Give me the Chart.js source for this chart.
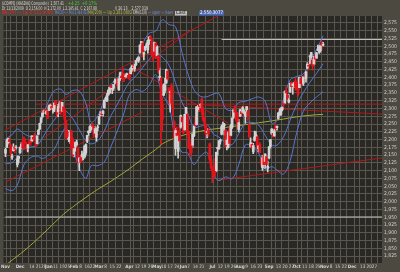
<!DOCTYPE html>
<html>
<head>
<meta charset="utf-8">
<script src="https://cdn.jsdelivr.net/npm/chart.js@4.4.0/dist/chart.umd.min.js"></script>
<style>
  html, body { margin: 0; padding: 0; background: #4c4940; }
</style>
</head>
<body>
<canvas id="chart" width="400" height="272"></canvas>
<script>
// ----- Data: daily candles, NASDAQ Composite, 11/13/2009 - 10/29/2010 (one row per month) -----
const holidays = ["2009-11-26", "2009-12-25", "2010-01-01", "2010-01-18", "2010-02-15", "2010-04-02",
  "2010-05-31", "2010-07-05", "2010-09-06", "2010-11-25", "2010-12-24"];

const open = [
  2156,2175,2190,2200,2180,2143,2164,2177,2173,2119,2139,
  2157,2176,2190,2196,2190,2180,2172,2193,2197,2196,2207,2207,2196,2187,2217,2234,2255,2273,2289,2293,2284,2291,
  2294,2307,2307,2298,2292,2324,2297,2289,2303,2322,2291,2305,2293,2254,2225,2200,2197,2228,2201,
  2153,2176,2183,2173,2127,2142,2147,2148,2144,2157,2195,2222,2223,2231,2250,2239,2221,2208,2238,
  2250,2278,2284,2283,2302,2329,2325,2344,2350,2373,2362,2365,2383,2388,2395,2360,2395,2404,2410,2405,2402,2409,2403,
  2410,2412,2423,2432,2427,2441,2457,2455,2480,2505,2510,2475,2488,2500,2488,2518,2530,2515,2480,2485,2510,
  2470,2470,2400,2397,2314,2343,2358,2382,2420,2366,2350,2372,2306,2258,2171,2220,2162,2229,2240,2272,
  2240,2231,2285,2281,2224,2172,2186,2182,2212,2254,2248,2297,2309,2310,2330,2290,2264,2249,2223,2228,2186,2136,
  2114,2108,2120,2100,2171,2170,2194,2217,2235,2245,2229,2184,2175,2232,2213,2240,2272,2303,2287,2276,2232,
  2275,2290,2287,2292,2275,2296,2290,2248,2176,2185,2160,2197,2208,2209,2171,2185,2137,2110,2148,2130,2145,2108,
  2141,2178,2219,2220,2212,2245,2238,2268,2281,2280,2296,2318,2318,2356,2342,2320,2353,2384,2373,2373,2389,
  2384,2364,2367,2398,2391,2381,2406,2397,2430,2438,2466,2467,2455,2443,2465,2462,2487,2481,2486,2509,2503
];
const high = [
  2172,2201,2204,2206,2183,2153,2186,2179,2181,2148,2146,
  2177,2190,2200,2209,2203,2190,2185,2200,2200,2212,2214,2221,2200,2212,2233,2253,2271,2286,2295,2297,2293,2294,
  2311,2314,2315,2301,2318,2326,2298,2313,2322,2322,2320,2307,2302,2263,2229,2230,2224,2230,2206,
  2172,2193,2198,2176,2143,2150,2163,2157,2181,2186,2214,2228,2244,2250,2252,2243,2241,2236,2247,
  2274,2290,2292,2293,2327,2336,2349,2361,2368,2375,2366,2378,2395,2393,2397,2398,2417,2410,2430,2414,2409,2414,2408,
  2418,2431,2440,2443,2442,2454,2462,2466,2505,2516,2516,2482,2500,2511,2520,2531,2535,2525,2484,2514,2513,
  2502,2470,2430,2403,2335,2379,2397,2427,2425,2367,2361,2380,2320,2260,2236,2240,2214,2249,2279,2274,
  2262,2282,2304,2283,2228,2181,2202,2218,2244,2272,2306,2310,2312,2316,2335,2304,2273,2251,2236,2236,2189,2146,
  2115,2111,2139,2160,2176,2197,2201,2246,2256,2252,2233,2203,2226,2240,2249,2270,2296,2308,2290,2288,2265,
  2298,2293,2306,2296,2290,2306,2297,2248,2206,2192,2188,2227,2226,2213,2181,2190,2139,2149,2153,2154,2148,2131,
  2178,2200,2235,2225,2234,2250,2244,2287,2299,2302,2305,2323,2357,2370,2346,2345,2382,2386,2382,2385,2398,
  2387,2369,2401,2400,2392,2403,2413,2420,2448,2446,2470,2481,2461,2468,2475,2481,2504,2499,2504,2516,2513
];
const low = [
  2145,2175,2186,2183,2146,2136,2163,2157,2169,2112,2125,
  2156,2170,2170,2170,2185,2163,2160,2185,2181,2193,2195,2203,2177,2186,2215,2232,2253,2272,2283,2286,2280,2268,
  2294,2296,2295,2285,2290,2302,2272,2274,2303,2279,2290,2276,2257,2205,2200,2193,2188,2170,2145,
  2144,2163,2182,2125,2100,2126,2133,2135,2140,2151,2190,2213,2223,2230,2236,2207,2220,2195,2229,
  2249,2276,2276,2275,2301,2325,2322,2342,2348,2359,2348,2358,2380,2382,2365,2358,2390,2396,2395,2386,2398,2400,2396,
  2392,2410,2419,2420,2420,2438,2452,2448,2478,2500,2466,2456,2485,2496,2478,2506,2518,2468,2453,2483,2460,
  2467,2414,2390,2185,2229,2341,2350,2381,2390,2317,2288,2311,2273,2203,2150,2212,2140,2195,2237,2243,
  2219,2230,2271,2214,2171,2145,2154,2175,2209,2242,2246,2290,2290,2303,2280,2259,2240,2212,2205,2210,2124,2106,
  2061,2082,2079,2097,2150,2169,2185,2215,2230,2215,2177,2167,2172,2183,2212,2236,2268,2281,2259,2235,2225,
  2274,2276,2284,2283,2253,2290,2262,2206,2176,2172,2155,2195,2201,2170,2160,2157,2115,2101,2116,2107,2119,2096,
  2138,2172,2216,2208,2210,2230,2230,2266,2278,2278,2292,2305,2316,2340,2327,2318,2352,2369,2346,2368,2359,
  2360,2340,2366,2370,2374,2374,2400,2385,2427,2424,2443,2458,2423,2440,2442,2461,2486,2477,2481,2489,2501
];
const close = [
  2168,2197,2203,2193,2156,2146,2176,2169,2176,2138,2145,
  2175,2185,2173,2194,2189,2172,2183,2190,2190,2212,2201,2206,2180,2211,2230,2252,2270,2285,2291,2288,2291,2269,
  2308,2308,2301,2300,2317,2312,2282,2307,2316,2288,2320,2291,2265,2205,2210,2204,2221,2180,2147,
  2171,2190,2191,2126,2141,2127,2151,2148,2178,2184,2214,2227,2242,2243,2242,2214,2235,2235,2238,
  2274,2281,2280,2292,2327,2332,2341,2358,2368,2368,2362,2378,2389,2391,2374,2395,2415,2399,2397,2395,2404,2410,2398,
  2402,2429,2436,2431,2436,2454,2457,2465,2504,2515,2481,2480,2500,2505,2519,2530,2523,2472,2471,2512,2461,
  2499,2424,2403,2320,2265,2375,2375,2425,2394,2347,2354,2317,2299,2204,2229,2213,2210,2196,2277,2257,
  2222,2281,2303,2219,2173,2170,2158,2218,2243,2244,2305,2305,2307,2310,2289,2262,2255,2217,2224,2220,2135,2109,
  2101,2092,2093,2159,2175,2196,2198,2242,2250,2249,2179,2198,2222,2188,2245,2269,2296,2288,2264,2252,2255,
  2296,2283,2303,2293,2288,2306,2277,2209,2190,2173,2181,2209,2215,2178,2180,2159,2124,2141,2119,2153,2119,2114,
  2177,2200,2234,2209,2228,2236,2243,2285,2289,2301,2304,2315,2355,2350,2334,2327,2381,2370,2379,2376,2369,
  2371,2345,2400,2380,2383,2402,2403,2417,2442,2436,2468,2480,2437,2458,2459,2479,2490,2497,2503,2503,2507
];

// weekly readings of the indicator lines
const weekEnds = ["2009-11-13","2009-11-20","2009-11-27","2009-12-04","2009-12-11","2009-12-18","2009-12-24","2009-12-31",
  "2010-01-08","2010-01-15","2010-01-22","2010-01-29","2010-02-05","2010-02-12","2010-02-19","2010-02-26",
  "2010-03-05","2010-03-12","2010-03-19","2010-03-26","2010-04-01","2010-04-09","2010-04-16","2010-04-23","2010-04-30",
  "2010-05-07","2010-05-14","2010-05-21","2010-05-28","2010-06-04","2010-06-11","2010-06-18","2010-06-25",
  "2010-07-02","2010-07-09","2010-07-16","2010-07-23","2010-07-30","2010-08-06","2010-08-13","2010-08-20","2010-08-27",
  "2010-09-03","2010-09-10","2010-09-17","2010-09-24","2010-10-01","2010-10-08","2010-10-15","2010-10-22","2010-10-29"];
const ma20 = [2122,2126,2144,2169,2176,2181,2205,2233,2263,2288,2291,2268,2232,2196,2186,2196,2228,2277,2314,2356,
  2384,2405,2431,2458,2479,2465,2440,2383,2319,2288,2240,2243,2248,2217,2208,2190,2184,2219,2253,2255,
  2247,2214,2183,2182,2209,2262,2313,2351,2384,2413,2444];
const bbUpper = [2202,2216,2234,2219,2210,2215,2271,2317,2357,2362,2345,2358,2356,2316,2256,2276,2328,2377,2398,2426,
  2424,2449,2507,2542,2549,2585,2570,2563,2479,2418,2360,2339,2338,2347,2348,2300,2294,2319,2323,2331,
  2337,2324,2253,2262,2329,2392,2403,2411,2450,2489,2534];
const bbLower = [2042,2036,2054,2119,2142,2147,2139,2149,2169,2214,2237,2178,2108,2076,2116,2116,2128,2177,2230,2286,
  2344,2361,2355,2374,2409,2345,2310,2203,2159,2158,2120,2147,2158,2087,2068,2080,2074,2119,2183,2179,
  2157,2104,2113,2102,2089,2132,2223,2291,2318,2337,2354];
const ma200 = [1796,1812,1825,1842,1860,1879,1895,1911,1932,1952,1967,1983,1999,2014,2026,2040,2053,2066,2080,2094,
  2106,2122,2138,2153,2168,2186,2197,2206,2213,2218,2223,2227,2231,2234,2236,2239,2242,2245,2248,2251,
  2254,2257,2260,2263,2266,2270,2273,2276,2278,2280,2281];

// drawn trend lines: [from date, price, to date, price]
const trendLines = [
  ["2009-11-13", 2231, "2010-07-13", 2604],
  ["2009-11-13", 2063, "2010-04-16", 2289],
  ["2009-12-28", 2205, "2010-06-09", 2552],
  ["2010-04-06", 2433, "2010-07-20", 2253],
  ["2009-12-17", 2314, "2011-01-04", 2314],
  ["2010-06-04", 2314, "2011-01-04", 2282],
  ["2010-07-09", 2070, "2011-01-04", 2141]
];
const levelLines = [
  ["2010-07-13", 2522, "2011-01-04", 2522],
  ["2009-11-13", 1951, "2011-01-04", 1951]
];

// x axis labels
const tickDays = ["2009-11-13","2009-12-01","2009-12-14","2009-12-21","2009-12-28","2010-01-04","2010-01-11","2010-01-19",
  "2010-01-25","2010-02-01","2010-02-08","2010-02-16","2010-02-22","2010-03-01","2010-03-08","2010-03-15","2010-03-22",
  "2010-04-01","2010-04-12","2010-04-19","2010-04-26","2010-05-03","2010-05-10","2010-05-17","2010-05-24","2010-06-01",
  "2010-06-07","2010-06-14","2010-06-21","2010-07-01","2010-07-12","2010-07-19","2010-07-26","2010-08-02","2010-08-09",
  "2010-08-16","2010-08-23","2010-09-01","2010-09-13","2010-09-20","2010-09-27","2010-10-01","2010-10-11","2010-10-18",
  "2010-10-25","2010-11-01","2010-11-08","2010-11-15","2010-11-22","2010-12-01","2010-12-13","2010-12-20","2010-12-27"];
const tickText = ["Nov","Dec","14","21","28","Jan","11","19","25","Feb","8","16","22","Mar","8","15","22",
  "Apr","12","19","26","May","10","17","24","Jun","7","14","21","Jul","12","19","26","Aug","9",
  "16","23","Sep","13","20","27","Oct","11","18","25","Nov","8","15","22","Dec","13","20","27"];

// ----- trading calendar (x position = trading day number) -----
function buildDays(first, last) {
  const out = [];
  const d = new Date(first + "T00:00:00Z");
  const end = new Date(last + "T00:00:00Z");
  while (d <= end) {
    const iso = d.toISOString().slice(0, 10);
    const wd = d.getUTCDay();
    if (wd !== 0 && wd !== 6 && !holidays.includes(iso)) out.push(iso);
    d.setUTCDate(d.getUTCDate() + 1);
  }
  return out;
}
const days = buildDays("2009-11-13", "2011-01-07");
const dayIndex = (iso) => days.indexOf(iso);

// weekly grid at first trading day of each week
const weekStarts = [];
for (let i = 1; i < days.length; i++) {
  const a = new Date(days[i - 1] + "T00:00:00Z").getUTCDay();
  const b = new Date(days[i] + "T00:00:00Z").getUTCDay();
  if (b <= a) weekStarts.push(i);
}
const weekSet = new Set(weekStarts);
const labelMap = new Map();
tickDays.forEach((d, k) => labelMap.set(dayIndex(d), tickText[k]));
const allTicks = Array.from(new Set(weekStarts.concat(Array.from(labelMap.keys())))).sort((a, b) => a - b);

// ----- colours -----
const upColor = "#d2d2d2";
const downColor = "#e3141b";
const blue = "#5677cf";
const olive = "#a3a638";
const trendRed = "#ae1a1a";
const gridColor = "#5a574f";

const candleColors = close.map((c, i) => (c >= open[i] ? upColor : downColor));
const wickData = close.map((c, i) => ({ x: i, y: [low[i], high[i]] }));
const bodyData = close.map((c, i) => ({ x: i, y: [Math.min(open[i], c), Math.max(open[i], c)] }));

const weekly = (vals) => weekEnds.map((d, k) => ({ x: dayIndex(d), y: vals[k] }));
const segment = (t, color, order) => ({
  type: "line",
  data: [{ x: dayIndex(t[0]), y: t[1] }, { x: dayIndex(t[2]), y: t[3] }],
  borderColor: color,
  borderWidth: 1,
  pointRadius: 0,
  order: order
});
const maLine = (vals, color, order) => ({
  type: "line",
  data: weekly(vals),
  borderColor: color,
  borderWidth: 1,
  pointRadius: 0,
  tension: 0.35,
  order: order
});

// ----- plugins -----
const background = {
  id: "background",
  beforeDraw(chart) {
    const { ctx, chartArea: a } = chart;
    ctx.save();
    ctx.fillStyle = "#4c4940";
    ctx.fillRect(0, 0, chart.width, chart.height);
    ctx.fillStyle = "#2a2825";
    ctx.fillRect(a.left, a.top, a.right - a.left, a.bottom - a.top);
    ctx.restore();
  }
};

const header = {
  id: "header",
  afterDraw(chart) {
    const c = chart.ctx;
    c.save();
    c.textBaseline = "middle";
    c.font = '5px "DejaVu Sans"';
    const put = (t, x, y, col, w) => { c.fillStyle = col; c.fillText(t, x, y, w); };
    put("$COMPQ (NASDAQ Composite)  2,507.41", 2, 3.5, "#dcdcdc", 62);
    put("+4.25  +0.17%", 68, 3.5, "#3fd03f", 29);
    put("Dt 11/13/2009  O 2,156.00  H 2,172.00  L 2,145.41  C 2,167.88", 2, 8.5, "#dcdcdc", 95);
    put("V 26.13    2,577.319", 115, 8.5, "#dcdcdc", 33);
    put("BB(20) \u2014 Up 2,531.9088", 2, 13.2, "#e02a2a", 51);
    put("MA(20) \u2014 Mid 2,444.023", 55, 13.2, "#6f8fe6", 33);
    put("MA(200) \u2014 Up 2,281.0802", 88, 13.2, "#b5b845", 44);
    put("EMA(13,8)", 133, 13.2, "#dcdcdc", 14);
    put("\u2014 upper \u2014 lower", 148, 13.2, "#6f8fe6", 25);
    c.fillStyle = "#bdbdbd";
    c.fillRect(175, 11, 12, 4.5);
    put("Last", 176, 13.2, "#2a2825", 10);
    c.fillStyle = "#4a68b8";
    c.fillRect(199, 11, 25, 4.5);
    put("2,550.3077", 200, 13.2, "#ffffff", 23);
    c.restore();
  }
};

// ----- chart -----
new Chart(document.getElementById("chart"), {
  type: "bar",
  data: {
    datasets: [
      { data: bodyData, backgroundColor: candleColors, barThickness: 2, minBarLength: 1, grouped: false, order: 0 },
      { data: wickData, backgroundColor: candleColors, barThickness: 1, grouped: false, order: 1 },
      maLine(ma20, blue, 2),
      maLine(bbUpper, blue, 2),
      maLine(bbLower, blue, 2),
      maLine(ma200, olive, 3),
      ...trendLines.map((t) => segment(t, trendRed, 4)),
      ...levelLines.map((t) => segment(t, "#c4c4c4", 5))
    ]
  },
  options: {
    responsive: false,
    animation: false,
    devicePixelRatio: 1,
    layout: { padding: { top: 16, left: 0, right: 0, bottom: 0 } },
    plugins: { legend: { display: false }, tooltip: { enabled: false } },
    scales: {
      x: {
        type: "linear",
        min: -1.5,
        max: 285.7,
        offset: false,
        afterBuildTicks: (s) => { s.ticks = allTicks.map((v) => ({ value: v })); },
        afterFit: (s) => { s.height = 9; },
        border: { display: false },
        grid: {
          drawTicks: false,
          color: (ctx) => (ctx.tick && weekSet.has(ctx.tick.value) ? gridColor : "rgba(0,0,0,0)")
        },
        ticks: {
          autoSkip: false,
          maxRotation: 0,
          minRotation: 0,
          padding: 1,
          color: "#d4d4d4",
          font: (ctx) => {
            const t = ctx.tick ? labelMap.get(ctx.tick.value) || "" : "";
            return { family: "DejaVu Sans Condensed", size: 4.6, weight: /^[A-Z]/.test(t) ? "bold" : "normal" };
          },
          callback: (v) => labelMap.get(v) || ""
        }
      },
      y: {
        position: "right",
        min: 1803,
        max: 2597.5,
        afterFit: (s) => { s.width = 18; },
        border: { display: false },
        grid: { drawTicks: false, color: gridColor },
        ticks: {
          stepSize: 25,
          includeBounds: false,
          autoSkip: false,
          padding: 2,
          color: "#d4d4d4",
          font: { family: "DejaVu Sans Condensed", size: 5 },
          callback: (v) => v.toLocaleString("en-US")
        }
      }
    }
  },
  plugins: [background, header]
});
</script>
</body>
</html>
